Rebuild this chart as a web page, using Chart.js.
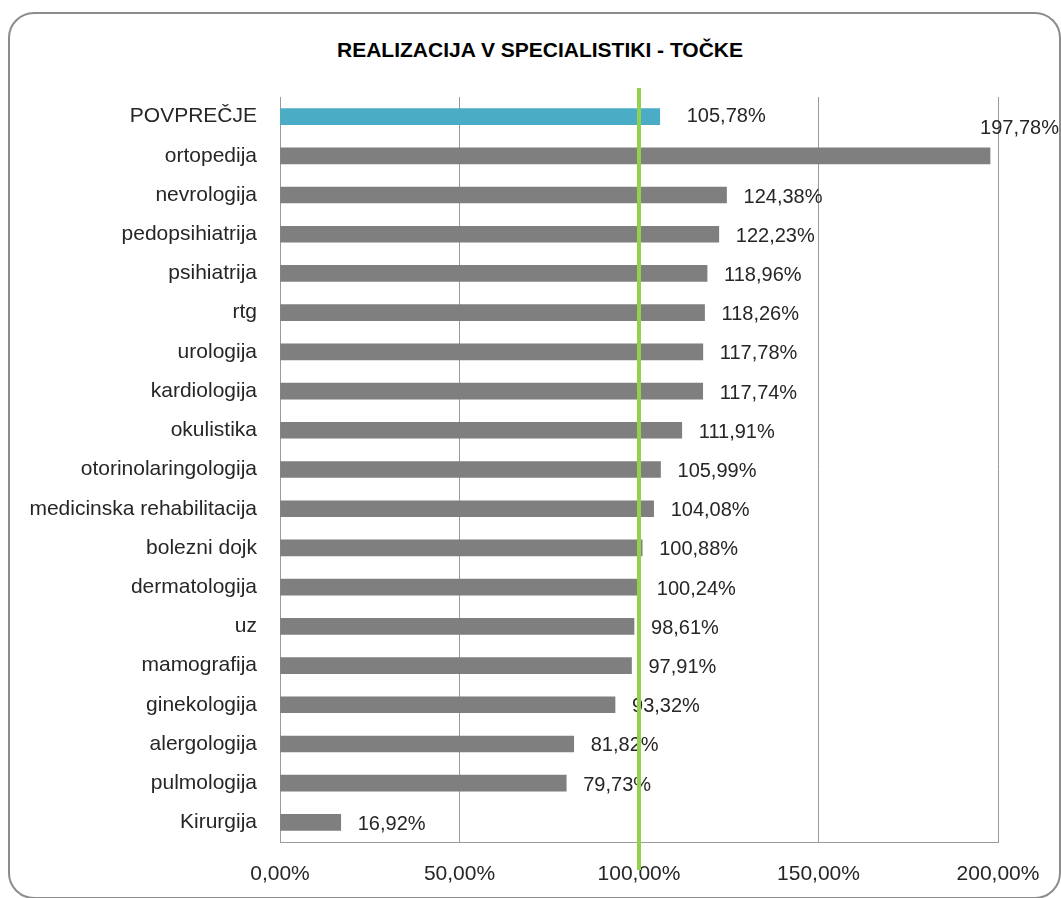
<!DOCTYPE html>
<html>
<head>
<meta charset="utf-8">
<script src="https://cdn.jsdelivr.net/npm/chart.js@4.4.0/dist/chart.umd.min.js"></script>
<style>
  body { margin: 0; background: #fff; }
  #wrap { position: relative; width: 1061px; height: 898px; overflow: hidden; }
  #frame { position: absolute; left: 8px; top: 12px; width: 1049px; height: 883px;
           border: 2px solid #8c8c8c; border-radius: 26px; }
  #title { position: absolute; left: 337px; width: 405px; top: 38px; text-align: center;
           font: bold 21px "Liberation Sans", Arial, sans-serif; color: #000; white-space: nowrap; }
  #myChart { position: absolute; left: 0; top: 0; }
</style>
</head>
<body>
<div id="wrap">
  <div id="frame"></div>
  <div id="title">REALIZACIJA V SPECIALISTIKI - TOČKE</div>
  <canvas id="myChart" width="1061" height="898"></canvas>
</div>
<script>
let labels = ['POVPREČJE', 'ortopedija', 'nevrologija', 'pedopsihiatrija', 'psihiatrija', 'rtg',
    'urologija', 'kardiologija', 'okulistika', 'otorinolaringologija', 'medicinska rehabilitacija',
    'bolezni dojk', 'dermatologija', 'uz', 'mamografija', 'ginekologija', 'alergologija',
    'pulmologija', 'Kirurgija'];
let values = [105.78, 197.78, 124.38, 122.23, 118.96, 118.26, 117.78, 117.74, 111.91, 105.99,
    104.08, 100.88, 100.24, 98.61, 97.91, 93.32, 81.82, 79.73, 16.92];
let target = 100;
let xTicks = [0, 50, 100, 150, 200];

function pct(v) {
    return v.toFixed(2).replace('.', ',') + '%';
}

// data labels next to bar ends
const barLabels = {
    id: 'barLabels',
    afterDatasetsDraw(chart) {
        const ctx = chart.ctx;
        const meta = chart.getDatasetMeta(0);
        ctx.save();
        ctx.font = '20px "Liberation Sans", Arial, sans-serif';
        ctx.fillStyle = '#262626';
        ctx.textBaseline = 'middle';
        ctx.textAlign = 'left';
        meta.data.forEach((bar, i) => {
            const txt = pct(values[i]);
            let x = bar.x + (i === 0 ? 27 : 17);
            let y = bar.y + (i === 0 ? 0 : 2);
            if (x + ctx.measureText(txt).width > chart.width) {
                x = bar.x - 10;
                y = bar.y - 27;
            }
            ctx.fillText(txt, x, y);
        });
        ctx.restore();
    }
};

// green 100% line, drawn over bars and labels
const targetLine = {
    id: 'targetLine',
    afterDraw(chart) {
        const ctx = chart.ctx;
        const x = chart.scales.x.getPixelForValue(target);
        ctx.save();
        ctx.strokeStyle = '#92d050';
        ctx.lineWidth = 4;
        ctx.beginPath();
        ctx.moveTo(x, chart.chartArea.top - 9);
        ctx.lineTo(x, chart.chartArea.bottom + 28);
        ctx.stroke();
        ctx.restore();
    }
};

var ctx = document.getElementById('myChart').getContext('2d');
var chart = new Chart(ctx, {
    type: 'bar',
    data: {
        labels: labels,
        datasets: [{
            data: values,
            backgroundColor: values.map((v, i) => i === 0 ? '#4bacc6' : '#7f7f7f'),
            barThickness: 16
        }]
    },
    options: {
        indexAxis: 'y',
        responsive: false,
        animation: false,
        layout: { padding: { left: 22, right: 63, top: 97, bottom: 0 } },
        plugins: {
            legend: { display: false },
            tooltip: { enabled: false },
            title: { display: false }
        },
        scales: {
            x: {
                min: 0,
                max: 200,
                afterBuildTicks: (scale) => { scale.ticks = xTicks.map(v => ({ value: v })); },
                afterFit: (scale) => { scale.height = 56; },
                grid: { color: '#9a9a9a', drawTicks: false },
                border: { display: true, color: '#9a9a9a' },
                ticks: {
                    padding: 20,
                    color: '#262626',
                    font: { family: '"Liberation Sans", Arial, sans-serif', size: 21 },
                    callback: (v) => pct(v)
                }
            },
            y: {
                grid: { display: false, drawTicks: false },
                border: { display: true, color: '#9a9a9a' },
                afterFit: (scale) => { scale.width = 258; },
                ticks: {
                    padding: 23,
                    color: '#262626',
                    font: { family: '"Liberation Sans", Arial, sans-serif', size: 21 }
                }
            }
        }
    },
    plugins: [barLabels, targetLine]
});
</script>
</body>
</html>
